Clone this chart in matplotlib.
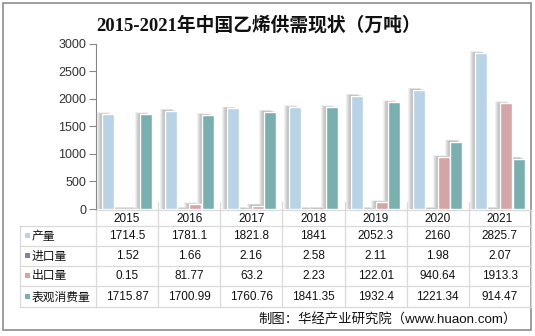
import matplotlib
matplotlib.use("Agg")
import matplotlib.pyplot as plt
from matplotlib.transforms import blended_transform_factory
from matplotlib.patches import Rectangle

plt.rcParams['font.family'] = ['Liberation Sans', 'Noto Sans CJK SC', 'DejaVu Sans']

# data
years = ['2015', '2016', '2017', '2018', '2019', '2020', '2021']
series_names = ['产量', '进口量', '出口量', '表观消费量']
output = [1714.5, 1781.1, 1821.8, 1841, 2052.3, 2160, 2825.7]
imports = [1.52, 1.66, 2.16, 2.58, 2.11, 1.98, 2.07]
exports = [0.15, 81.77, 63.2, 2.23, 122.01, 940.64, 1913.3]
consumption = [1715.87, 1700.99, 1760.76, 1841.35, 1932.4, 1221.34, 914.47]
cell_text = [
    ['1714.5', '1781.1', '1821.8', '1841', '2052.3', '2160', '2825.7'],
    ['1.52', '1.66', '2.16', '2.58', '2.11', '1.98', '2.07'],
    ['0.15', '81.77', '63.2', '2.23', '122.01', '940.64', '1913.3'],
    ['1715.87', '1700.99', '1760.76', '1841.35', '1932.4', '1221.34', '914.47'],
]
colors = ['#B8D3E5', '#7D82A6', '#D4A5A6', '#7AAFB0']

W, H = 535, 336
fig = plt.figure(figsize=(W / 100, H / 100), dpi=100)

# overlay in pixel coordinates for the frame, table and notes
over = fig.add_axes([0, 0, 1, 1])
over.set_xlim(0, W)
over.set_ylim(H, 0)
over.axis('off')

ax = fig.add_axes([96 / W, (H - 209) / H, (531 - 96) / W, (209 - 43.5) / H])
ax.set_zorder(2)
ax.patch.set_alpha(0)

x = list(range(len(years)))
width = 0.2
px_x = 1 / 62.2      # one pixel in category units
px_y = 3000 / 166    # one pixel in value units
for j, vals in enumerate([output, imports, exports, consumption]):
    pos = [i + (j - 1.5) * width for i in x]
    # soft drop shadow, built from a few translucent layers
    for k in range(1, 6):
        ax.bar([p - k * px_x for p in pos], [v + k * 0.4 * px_y for v in vals],
               width=width * 0.97, color='black', alpha=0.06, lw=0, zorder=2)
    ax.bar(pos, vals, width=width * 0.97, color=colors[j],
           edgecolor='white', linewidth=1.0, zorder=3)

ax.set_xlim(-0.5, len(years) - 0.5)
ax.set_ylim(0, 3000)
ax.set_yticks(range(0, 3001, 500))
ax.set_xticks([])
ax.tick_params(axis='y', length=5, width=0.8, color='#888888', labelsize=9,
               labelcolor='#333333', pad=2)
for s in ['top', 'right', 'bottom']:
    ax.spines[s].set_visible(False)
ax.spines['left'].set_color('#888888')
ax.spines['left'].set_linewidth(0.8)
ax.spines['left'].set_zorder(5)

# data table under the plot
trans = blended_transform_factory(ax.transData, over.transData)
grid_c = '#D9D9D9'
top, head_bot = 210, 226
row_edges = [226, 245.5, 265.5, 285.5, 307]
tab_left, tab_right = 20, 531

over.plot([96, tab_right], [top, top], color=grid_c, lw=0.9)
for yy in row_edges:
    over.plot([tab_left, tab_right], [yy, yy], color=grid_c, lw=0.9)
over.plot([tab_left, tab_left], [row_edges[0], row_edges[-1]], color=grid_c, lw=0.9)
for i in range(len(years) + 1):
    ax_x = i - 0.5
    over.plot([ax_x, ax_x], [top - 8 if i < len(years) else top, row_edges[-1]],
              color=grid_c, lw=0.9, transform=trans)

for i, yr in enumerate(years):
    over.text(i, (top + head_bot) / 2 + 1, yr, ha='center', va='center',
              fontsize=8.5, color='#111111', transform=trans)

for r, name in enumerate(series_names):
    yc = (row_edges[r] + row_edges[r + 1]) / 2
    over.add_patch(Rectangle((25, yc - 2.5), 5, 5, color=colors[r], lw=0))
    over.text(32, yc + 0.5, name, ha='left', va='center', fontsize=8.5,
              color='#111111', family=['Noto Sans CJK SC'])
    for i, txt in enumerate(cell_text[r]):
        over.text(i, yc + 0.5, txt, ha='center', va='center', fontsize=8.5,
                  color='#111111', transform=trans)

over.text(259, 25, '2015-2021年中国乙烯供需现状（万吨）', ha='center', va='center',
          fontsize=13.5, fontweight='bold', color='#111111',
          family=['Liberation Serif', 'Noto Sans CJK SC'])
over.text(517, 320, '制图：华经产业研究院（www.huaon.com）', ha='right', va='center',
          fontsize=9.6, color='#111111')

# outer frame
over.add_patch(Rectangle((3, 3), 528, 327, fill=False, edgecolor='#8C8C8C', lw=1.2))

fig.savefig('out.png', dpi=100)
